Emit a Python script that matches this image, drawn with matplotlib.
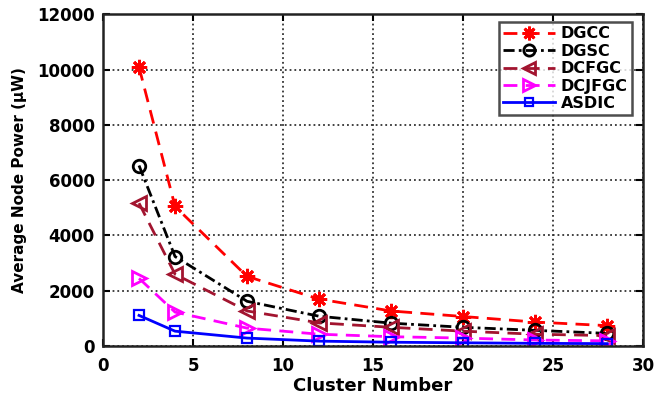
import matplotlib
matplotlib.use("Agg")
import matplotlib.pyplot as plt

plt.rcParams['font.family'] = ['DejaVu Sans']
plt.rcParams['font.weight'] = 'bold'

cluster = [2, 4, 8, 12, 16, 20, 24, 28]
dgcc = [10090, 5050, 2520, 1700, 1270, 1070, 870, 740]
dgsc = [6530, 3240, 1620, 1080, 830, 680, 570, 460]
dcfgc = [5170, 2600, 1270, 840, 680, 540, 430, 380]
dcjfgc = [2450, 1230, 650, 430, 340, 290, 220, 190]
asdic = [1110, 540, 290, 180, 140, 120, 100, 90]

names = ["DGCC", "DGSC", "DCFGC", "DCJFGC", "ASDIC"]

fig = plt.figure(figsize=(6.54, 3.96), dpi=100)
ax = fig.add_axes([0.1575, 0.126, 0.826, 0.838])

lw = 2.0
ax.plot(cluster, dgcc, color='#ff0000', linestyle=(0, (5, 3)), linewidth=lw,
        marker=(8, 2, 0), markersize=11, markeredgewidth=2, label=names[0])
ax.plot(cluster, dgsc, color='black', linestyle=(0, (4, 1.5, 1, 1.5)), linewidth=lw,
        marker='o', markersize=9, markerfacecolor='none', markeredgewidth=2, label=names[1])
ax.plot(cluster, dcfgc, color='#a2142f', linestyle=(0, (5, 3)), linewidth=lw,
        marker='<', markersize=10, markerfacecolor='none', markeredgewidth=2, label=names[2])
ax.plot(cluster, dcjfgc, color='#ff00ff', linestyle=(0, (5, 3)), linewidth=lw,
        marker='>', markersize=10, markerfacecolor='none', markeredgewidth=2, label=names[3])
ax.plot(cluster, asdic, color='#0000ff', linestyle='-', linewidth=lw,
        marker='s', markersize=7, markerfacecolor='none', markeredgewidth=1.6, label=names[4])

ax.set_xlim(0, 30)
ax.set_ylim(0, 12000)
ax.set_xticks([0, 5, 10, 15, 20, 25, 30])
ax.set_yticks([0, 2000, 4000, 6000, 8000, 10000, 12000])
ax.grid(True, linestyle=':', color='#333333', linewidth=1.3)
ax.tick_params(direction='in', top=True, right=True, labelsize=12, width=1.5, length=5)
ax.tick_params(axis='x', pad=8)
ax.tick_params(axis='y', pad=6)
for lab in ax.get_xticklabels() + ax.get_yticklabels():
    lab.set_fontweight('bold')
for s in ax.spines.values():
    s.set_linewidth(1.8)
    s.set_color('#222222')

ax.set_xlabel("Cluster Number", fontsize=13, fontweight='bold', labelpad=1)
ax.set_ylabel("Average Node Power (\u03bcW)", fontsize=11, fontweight='bold', labelpad=7)

leg = ax.legend(loc='upper right', bbox_to_anchor=(0.985, 0.985), fontsize=11.5,
                frameon=True, fancybox=False, edgecolor='#222222',
                handlelength=3.2, borderpad=0.25, labelspacing=0.15, handletextpad=0.4,
                borderaxespad=0.2, markerscale=0.9)
leg.get_frame().set_linewidth(1.8)
for t in leg.get_texts():
    t.set_fontweight('bold')

fig.savefig("out.png", dpi=100)
